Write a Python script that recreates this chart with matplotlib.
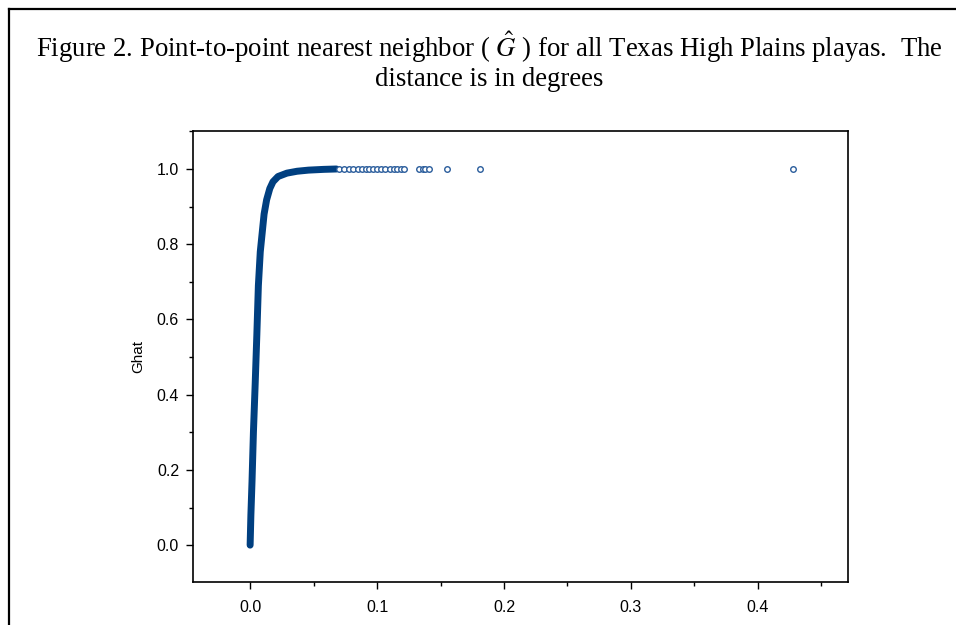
import matplotlib
matplotlib.use("Agg")
import matplotlib.pyplot as plt
from matplotlib.lines import Line2D
from matplotlib.ticker import MultipleLocator

# Ghat curve (dense part)
curve_dist = [0.0, 0.0006, 0.0015, 0.0026, 0.004, 0.0053, 0.0065, 0.0080,
              0.0095, 0.0110, 0.0130, 0.0155, 0.018, 0.022, 0.029, 0.037,
              0.046, 0.058, 0.068]
curve_ghat = [0.0, 0.08, 0.17, 0.30, 0.43, 0.56, 0.69, 0.78,
              0.83, 0.88, 0.918, 0.948, 0.966, 0.980, 0.989, 0.994,
              0.997, 0.999, 1.0]

# sparse tail points
tail_dist = [0.070, 0.074, 0.078, 0.081, 0.085, 0.088, 0.091, 0.094, 0.097,
             0.100, 0.103, 0.106, 0.110, 0.113, 0.116, 0.119, 0.121, 0.133,
             0.136, 0.138, 0.141, 0.155, 0.181, 0.428]
tail_ghat = [1.0] * len(tail_dist)

x_ticks = [0.0, 0.1, 0.2, 0.3, 0.4]
y_ticks = [0.0, 0.2, 0.4, 0.6, 0.8, 1.0]

plt.rcParams['font.family'] = ['Liberation Sans', 'DejaVu Sans']
plt.rcParams['mathtext.fontset'] = 'stix'

fig = plt.figure(figsize=(9.56, 6.25), dpi=100)
W, H = 956, 625

# outer page frame
fig.add_artist(Line2D([9 / W, 9 / W], [1 - 9 / H, 0], color='black', lw=1.6))
fig.add_artist(Line2D([9 / W, 1], [1 - 9 / H, 1 - 9 / H], color='black', lw=1.6))

serif = ['Liberation Serif', 'DejaVu Serif']
fig.text(489.5 / W, 1 - 47 / H,
         r'Figure 2. Point-to-point nearest neighbor ( $\hat{G}$ ) for all Texas High Plains playas.  The',
         ha='center', va='center', fontsize=19.3, family=serif)
fig.text(489.5 / W, 1 - 80 / H, 'distance is in degrees',
         ha='center', va='center', fontsize=19.3, family=serif)

ax = fig.add_axes([193 / W, 1 - 582 / H, (848 - 193) / W, (582 - 131) / H])

blue = '#003f80'
ax.plot(curve_dist, curve_ghat, color=blue, lw=5, solid_capstyle='round',
        solid_joinstyle='round')
ax.plot(tail_dist, tail_ghat, linestyle='none', marker='o', ms=4,
        mfc='white', mec='#2a5d9c', mew=1.0)

ax.set_xlim(-0.045, 0.471)
ax.set_ylim(-0.098, 1.101)
ax.set_xticks(x_ticks)
ax.set_yticks(y_ticks)
ax.set_xticklabels([f'{v:.1f}' for v in x_ticks])
ax.set_yticklabels([f'{v:.1f}' for v in y_ticks])
ax.xaxis.set_minor_locator(MultipleLocator(0.05))
ax.yaxis.set_minor_locator(MultipleLocator(0.1))
ax.tick_params(which='major', length=5, width=1, labelsize=11.5, pad=5)
ax.tick_params(which='minor', length=3, width=1)
ax.tick_params(axis='x', which='major', pad=8)

for s in ax.spines.values():
    s.set_linewidth(1.2)

ax.set_ylabel('Ghat', fontsize=11, labelpad=8)

fig.savefig('out.png', dpi=100)
